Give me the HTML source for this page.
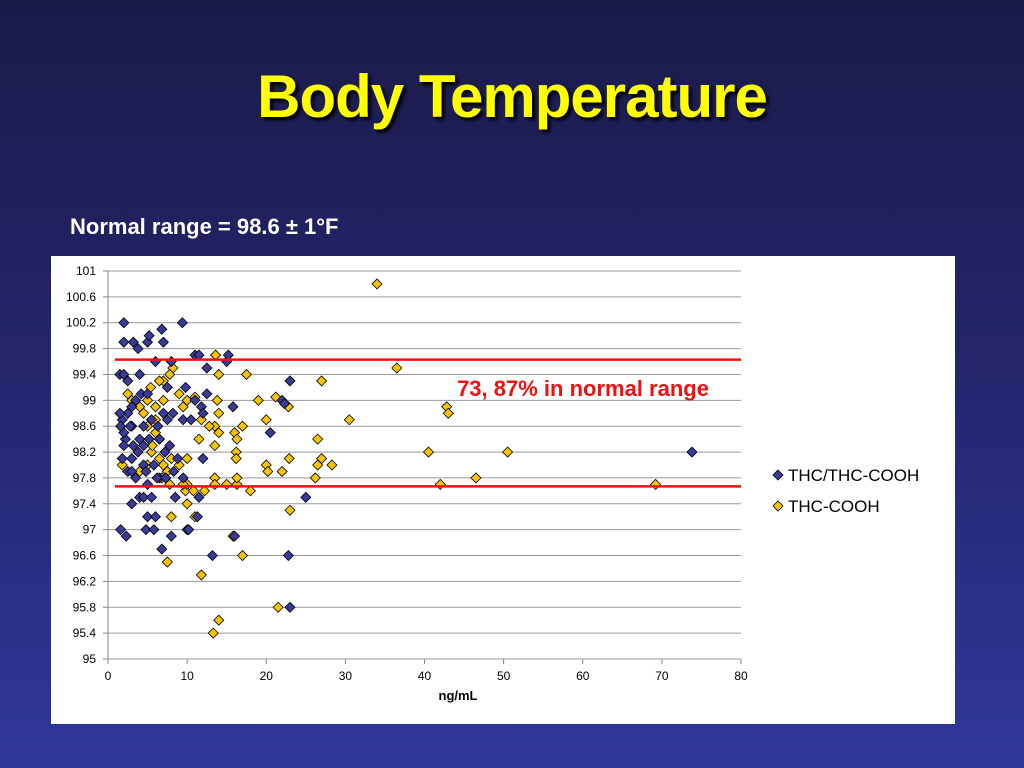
<!DOCTYPE html>
<html><head><meta charset="utf-8"><style>
body{margin:0;width:1024px;height:768px;overflow:hidden;background:linear-gradient(#1b1b4a,#23246a 45%,#30389a);font-family:"Liberation Sans",sans-serif}
#title{position:absolute;left:0;width:1024px;top:62px;text-align:center;font-size:60px;font-weight:bold;color:#ffff00;text-shadow:3px 3px 3px #000;letter-spacing:-1px}
#sub{position:absolute;left:70px;top:214px;font-size:22px;font-weight:bold;color:#fff}
svg{position:absolute;left:0;top:0}
</style></head><body>
<div id="title">Body Temperature</div>
<div id="sub">Normal range = 98.6 ± 1°F</div>
<svg id="chart" width="1024" height="768"></svg>
<script>
const yTicks=[95,95.4,95.8,96.2,96.6,97,97.4,97.8,98.2,98.6,99,99.4,99.8,100.2,100.6,101];
const yTickLabels=["95","95.4","95.8","96.2","96.6","97","97.4","97.8","98.2","98.6","99","99.4","99.8","100.2","100.6","101"];
const xTicks=[0,10,20,30,40,50,60,70,80];
const normalLimits=[99.63,97.67];
const blueX=[2,2,3.2,3.8,5,5.2,6.8,7,9.4,11,11.5,15,15.2,6,8,12.5,1.5,2.5,2,4,7.5,9.8,12.5,11,11.8,12,15.8,22,23,22.3,20.5,25,23,22.8,13.2,16,8,6.8,1.6,2.3,4.8,5.8,10,10.2,5,6,11.3,73.8,3,4,4.5,5.5,8.5,11.5,3.5,5,6.5,9.5,12,1.8,2.2,3,1.8,2,2.5,3,3.5,4.2,5,3.2,4,4.5,5.5,6.3,7,7.5,8.2,9.5,10.5,3,3.8,4.5,2.5,3,4.8,5.8,7.2,8.3,6.2,7.3,1.5,2,1.6,2.8,4.5,5.2,6.5,7.8,8.8];
const blueY=[100.2,99.9,99.9,99.8,99.9,100,100.1,99.9,100.2,99.7,99.7,99.6,99.7,99.6,99.6,99.5,99.4,99.3,99.4,99.4,99.2,99.2,99.1,99,98.9,98.8,98.9,99,99.3,98.95,98.5,97.5,95.8,96.6,96.6,96.9,96.9,96.7,97,96.9,97,97,97,97,97.2,97.2,97.2,98.2,97.4,97.5,97.5,97.5,97.5,97.5,97.8,97.7,97.8,97.8,98.1,98.1,98.4,98.6,98.7,98.5,98.8,98.9,99,99.1,99.1,98.3,98.4,98.6,98.7,98.6,98.8,98.7,98.8,98.7,98.7,98.1,98.2,98,97.9,97.9,97.9,98,98.2,97.9,97.8,97.8,98.8,98.3,98.6,98.6,98.3,98.4,98.4,98.3,98.1];
const yellowX=[34,36.5,27,42.8,43,30.5,40.5,50.5,26.5,69.2,46.5,42,28.3,27,26.5,22.9,22,26.2,20,20.2,23,21.5,14,13.3,17,11.8,7.5,15.8,13.6,14,17.5,8.2,19,22.8,21.2,20,17,16,16.3,16.2,16.2,14,13.5,13.5,13.8,14,12.8,11.8,11.5,13.5,13.5,15,16.3,16.3,18,10,8,11,12.2,9.8,10,10.8,1.8,2.5,3,4,5,5.4,6,7,7,7.8,9,9.5,10,11,4.5,5,6,6.5,5.5,6.5,7,7.5,8,9,10,4,5,5.6,6.8,7.8,9.5,6,6.5];
const yellowY=[100.8,99.5,99.3,98.9,98.8,98.7,98.2,98.2,98.4,97.7,97.8,97.7,98,98.1,98,98.1,97.9,97.8,98,97.9,97.3,95.8,95.6,95.4,96.6,96.3,96.5,96.9,99.7,99.4,99.4,99.5,99,98.9,99.05,98.7,98.6,98.5,98.4,98.2,98.1,98.5,98.6,98.3,99,98.8,98.6,98.7,98.4,97.8,97.7,97.7,97.7,97.8,97.6,97.4,97.2,97.2,97.6,97.6,97.7,97.6,98,99.1,99,98.9,99,99.2,98.7,99,99.3,99.4,99.1,98.9,99,99.05,98.8,98.6,98.5,98.4,98.2,98.1,98,97.9,98.1,98,98.1,97.9,98,98.3,97.8,97.7,97.7,98.9,99.3];
const NS="http://www.w3.org/2000/svg";
const svg=document.getElementById('chart');
const X0=108,X1=741,Y0=659,Y1=271;
const xs=v=>X0+(v-0)/80*(X1-X0);
const ys=v=>Y0-(v-95)/6*(Y0-Y1);
function mk(t,a){const e=document.createElementNS(NS,t);for(const k in a)e.setAttribute(k,a[k]);svg.appendChild(e);return e;}
let e=mk('rect',{x:51,y:256,width:904,height:468,fill:'#fff'});


yTicks.forEach((t,i)=>{
 const g=mk('line',{x1:X0,x2:X1,y1:ys(t),y2:ys(t),stroke:'#999','stroke-width':1});
 
 
 const tk=mk('line',{x1:X0-5,x2:X0,y1:ys(t),y2:ys(t),stroke:'#888'});
 
 
 const l=mk('text',{x:96,y:ys(t)+4,'text-anchor':'end','font-size':12,fill:'#000'});
 l.textContent=yTickLabels[i];
 
 
});
const ax=mk('line',{x1:X0,x2:X0,y1:Y1,y2:Y0,stroke:'#888'});


xTicks.forEach(t=>{
 const tk=mk('line',{x1:xs(t),x2:xs(t),y1:Y0,y2:Y0+5,stroke:'#888'});
 
 
 const l=mk('text',{x:xs(t),y:680,'text-anchor':'middle','font-size':12,fill:'#000'});
 l.textContent=t;
 
 
});
const xt=mk('text',{x:458,y:700,'text-anchor':'middle','font-size':13,'font-weight':'bold',fill:'#000'});
xt.textContent='ng/mL';


function diamond(cx,cy,fill){return mk('path',{d:`M${cx} ${cy-5}L${cx+5} ${cy}L${cx} ${cy+5}L${cx-5} ${cy}Z`,fill:fill,stroke:'#000','stroke-width':0.8});}
yellowX.forEach((v,i)=>{const d=diamond(xs(v),ys(yellowY[i]),'#f5c400');
 
 });
blueX.forEach((v,i)=>{const d=diamond(xs(v),ys(blueY[i]),'#3a3a98');
 
 });
normalLimits.forEach(v=>{const l=mk('line',{x1:115,x2:X1,y1:ys(v),y2:ys(v),stroke:'#ee1111','stroke-width':2.5});
 
 });
const an=mk('text',{x:583,y:396,'text-anchor':'middle','font-size':22,'font-weight':'bold',fill:'#ee1111'});
an.textContent='73, 87% in normal range';


[['THC/THC-COOH','#3a3a98',475],['THC-COOH','#f5c400',506]].forEach(([n,c,y])=>{
 const d=diamond(778,y,c);
 
 
 const t=mk('text',{x:788,y:y+6,'font-size':17,fill:'#000'});
 t.textContent=n;
 
 
});
</script>
</body></html>
